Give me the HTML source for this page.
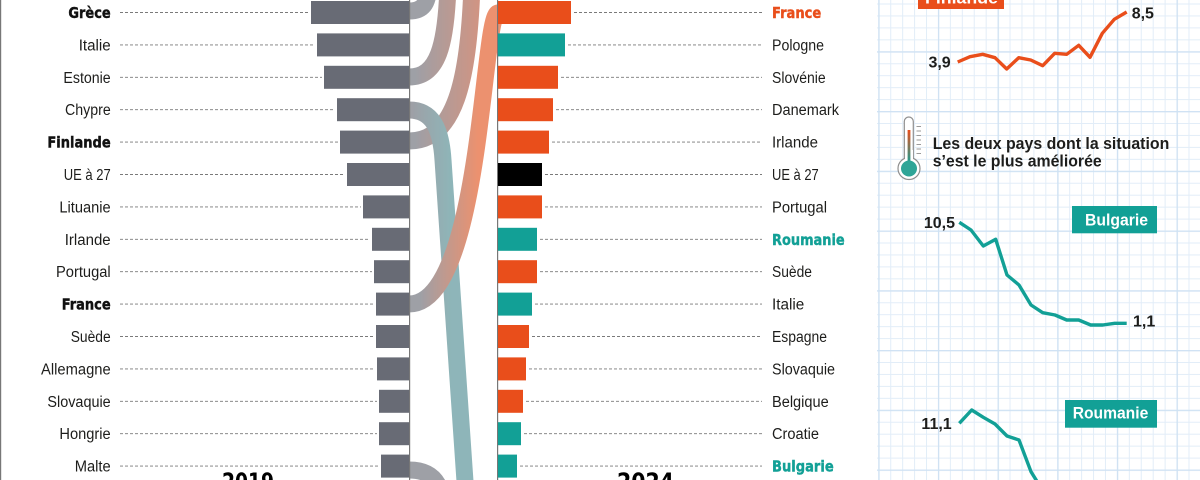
<!DOCTYPE html>
<html><head><meta charset="utf-8"><style>
html,body{margin:0;padding:0;background:#fff;}
svg{display:block;}
.l{font-family:"Liberation Sans",sans-serif;font-size:15.5px;fill:#1d1d1b;}
.b{font-family:"DejaVu Sans","Liberation Sans",sans-serif;font-weight:bold;font-size:15px;fill:#111;stroke:#111;stroke-width:0.4;}
.n{font-family:"Liberation Sans",sans-serif;font-weight:bold;font-size:16px;fill:#1d1d1b;}
.w{font-family:"Liberation Sans",sans-serif;font-weight:bold;font-size:17px;fill:#fff;}
.d{stroke:#7a7a7a;stroke-width:0.9;stroke-dasharray:3 2;fill:none;}
</style></head><body>
<svg width="1200" height="480" viewBox="0 0 1200 480" xmlns="http://www.w3.org/2000/svg">
<defs>
<pattern id="gmin" patternUnits="userSpaceOnUse" x="878.3" y="3.5" width="11.93" height="11.95">
<rect x="0" y="0" width="1" height="11.95" fill="#E2EDF8"/><rect x="0" y="0" width="11.93" height="1" fill="#E2EDF8"/>
</pattern>
<pattern id="gmaj" patternUnits="userSpaceOnUse" x="878.3" y="51.3" width="59.65" height="59.75">
<rect x="0" y="0" width="1.3" height="59.75" fill="#CFE2F3"/><rect x="0" y="0" width="59.65" height="1.3" fill="#CFE2F3"/>
</pattern>
<linearGradient id="gO" gradientUnits="userSpaceOnUse" x1="420" y1="0" x2="478" y2="0"><stop offset="0" stop-color="#686B75"/><stop offset="1" stop-color="#E2541F"/></linearGradient>
<linearGradient id="gO2" gradientUnits="userSpaceOnUse" x1="415" y1="0" x2="520" y2="0"><stop offset="0" stop-color="#686B75"/><stop offset="1" stop-color="#E94E1B"/></linearGradient>
<linearGradient id="gT" gradientUnits="userSpaceOnUse" x1="412" y1="0" x2="452" y2="0"><stop offset="0" stop-color="#686B75"/><stop offset="1" stop-color="#4F8D92"/></linearGradient>
<linearGradient id="th" x1="0" y1="0" x2="0" y2="1"><stop offset="0" stop-color="#E94E1B"/><stop offset="1" stop-color="#12A096"/></linearGradient>
</defs>

<rect x="0" y="0" width="1.2" height="480" fill="#777"/>

<rect x="877" y="0" width="323" height="480" fill="url(#gmin)"/>
<rect x="877" y="0" width="323" height="480" fill="url(#gmaj)"/>

<g fill="none" stroke-width="17" opacity="0.64">
<path d="M409,11 C423,11 428,4 429,-14" stroke="#686B75"/>
<path d="M409,77 C438,77 446,45 448,-14" stroke="url(#gO2)"/>
<path d="M409,141 C455,141 469,80 472,-16" stroke="url(#gO2)"/>
<path d="M409,110 C432,110 441,128 443,160 L466,496" stroke="url(#gT)"/>
<path d="M409,304 C482,304 482,13 498,13" stroke="url(#gO)"/>
<path d="M409,470 C428,470 438,478 442,496" stroke="#686B75"/>
</g>

<rect x="409" y="0" width="1.2" height="480" fill="#777"/>
<rect x="497" y="0" width="1.2" height="480" fill="#777"/>

<path class="d" d="M120 12.5H309 M120 44.9H315 M120 77.3H322 M120 109.7H335 M120 142.1H338 M120 174.5H345 M120 206.9H361 M120 239.3H370 M120 271.7H372 M120 304.1H374 M120 336.5H374 M120 368.9H375 M120 401.3H377 M120 433.7H377 M120 466.1H379"/>
<path class="d" d="M574 12.5H762 M568 44.9H762 M561 77.3H762 M556 109.7H762 M552 142.1H762 M545 174.5H762 M545 206.9H762 M540 239.3H762 M540 271.7H762 M535 304.1H762 M532 336.5H762 M529 368.9H762 M526 401.3H762 M524 433.7H762 M520 466.1H762"/>

<g fill="#686B75">
<rect x="311" y="1" width="98" height="23"/>
<rect x="317" y="33.4" width="92" height="23"/>
<rect x="324" y="65.8" width="85" height="23"/>
<rect x="337" y="98.2" width="72" height="23"/>
<rect x="340" y="130.6" width="69" height="23"/>
<rect x="347" y="163" width="62" height="23"/>
<rect x="363" y="195.4" width="46" height="23"/>
<rect x="372" y="227.8" width="37" height="23"/>
<rect x="374" y="260.2" width="35" height="23"/>
<rect x="376" y="292.6" width="33" height="23"/>
<rect x="376" y="325" width="33" height="23"/>
<rect x="377" y="357.4" width="32" height="23"/>
<rect x="379" y="389.8" width="30" height="23"/>
<rect x="379" y="422.2" width="30" height="23"/>
<rect x="381" y="454.6" width="28" height="23"/>
</g>

<rect x="498" y="1" width="73" height="23" fill="#E94E1B"/>
<rect x="498" y="33.4" width="67" height="23" fill="#12A096"/>
<rect x="498" y="65.8" width="60" height="23" fill="#E94E1B"/>
<rect x="498" y="98.2" width="55" height="23" fill="#E94E1B"/>
<rect x="498" y="130.6" width="51" height="23" fill="#E94E1B"/>
<rect x="498" y="163" width="44" height="23" fill="#000"/>
<rect x="498" y="195.4" width="44" height="23" fill="#E94E1B"/>
<rect x="498" y="227.8" width="39" height="23" fill="#12A096"/>
<rect x="498" y="260.2" width="39" height="23" fill="#E94E1B"/>
<rect x="498" y="292.6" width="34" height="23" fill="#12A096"/>
<rect x="498" y="325" width="31" height="23" fill="#E94E1B"/>
<rect x="498" y="357.4" width="28" height="23" fill="#E94E1B"/>
<rect x="498" y="389.8" width="25" height="23" fill="#E94E1B"/>
<rect x="498" y="422.2" width="23" height="23" fill="#12A096"/>
<rect x="498" y="454.6" width="19" height="23" fill="#12A096"/>

<text class="b" x="110.7" y="18" text-anchor="end" textLength="42.3" lengthAdjust="spacingAndGlyphs">Grèce</text>
<text class="l" x="110.7" y="50.4" text-anchor="end" textLength="32" lengthAdjust="spacingAndGlyphs">Italie</text>
<text class="l" x="110.7" y="82.8" text-anchor="end" textLength="47.3" lengthAdjust="spacingAndGlyphs">Estonie</text>
<text class="l" x="110.7" y="115.2" text-anchor="end" textLength="45.7" lengthAdjust="spacingAndGlyphs">Chypre</text>
<text class="b" x="110.7" y="147.6" text-anchor="end" textLength="63.3" lengthAdjust="spacingAndGlyphs">Finlande</text>
<text class="l" x="110.7" y="180" text-anchor="end" textLength="47" lengthAdjust="spacingAndGlyphs">UE à 27</text>
<text class="l" x="110.7" y="212.4" text-anchor="end" textLength="51.3" lengthAdjust="spacingAndGlyphs">Lituanie</text>
<text class="l" x="110.7" y="244.8" text-anchor="end" textLength="46" lengthAdjust="spacingAndGlyphs">Irlande</text>
<text class="l" x="110.7" y="277.2" text-anchor="end" textLength="54.7" lengthAdjust="spacingAndGlyphs">Portugal</text>
<text class="b" x="110.7" y="309.6" text-anchor="end" textLength="49" lengthAdjust="spacingAndGlyphs">France</text>
<text class="l" x="110.7" y="342" text-anchor="end" textLength="40" lengthAdjust="spacingAndGlyphs">Suède</text>
<text class="l" x="110.7" y="374.4" text-anchor="end" textLength="69.7" lengthAdjust="spacingAndGlyphs">Allemagne</text>
<text class="l" x="110.7" y="406.8" text-anchor="end" textLength="63.3" lengthAdjust="spacingAndGlyphs">Slovaquie</text>
<text class="l" x="110.7" y="439.2" text-anchor="end" textLength="51.3" lengthAdjust="spacingAndGlyphs">Hongrie</text>
<text class="l" x="110.7" y="471.6" text-anchor="end" textLength="36" lengthAdjust="spacingAndGlyphs">Malte</text>

<text class="b" x="772" y="18" textLength="49.3" lengthAdjust="spacingAndGlyphs" style="fill:#E94E1B;stroke:#E94E1B">France</text>
<text class="l" x="772" y="50.4" textLength="52" lengthAdjust="spacingAndGlyphs">Pologne</text>
<text class="l" x="772" y="82.8" textLength="53.7" lengthAdjust="spacingAndGlyphs">Slovénie</text>
<text class="l" x="772" y="115.2" textLength="67" lengthAdjust="spacingAndGlyphs">Danemark</text>
<text class="l" x="772" y="147.6" textLength="46" lengthAdjust="spacingAndGlyphs">Irlande</text>
<text class="l" x="772" y="180" textLength="46.7" lengthAdjust="spacingAndGlyphs">UE à 27</text>
<text class="l" x="772" y="212.4" textLength="55" lengthAdjust="spacingAndGlyphs">Portugal</text>
<text class="b" x="772" y="244.8" textLength="72.7" lengthAdjust="spacingAndGlyphs" style="fill:#12A096;stroke:#12A096">Roumanie</text>
<text class="l" x="772" y="277.2" textLength="40" lengthAdjust="spacingAndGlyphs">Suède</text>
<text class="l" x="772" y="309.6" textLength="32.3" lengthAdjust="spacingAndGlyphs">Italie</text>
<text class="l" x="772" y="342" textLength="55" lengthAdjust="spacingAndGlyphs">Espagne</text>
<text class="l" x="772" y="374.4" textLength="63" lengthAdjust="spacingAndGlyphs">Slovaquie</text>
<text class="l" x="772" y="406.8" textLength="56.7" lengthAdjust="spacingAndGlyphs">Belgique</text>
<text class="l" x="772" y="439.2" textLength="47" lengthAdjust="spacingAndGlyphs">Croatie</text>
<text class="b" x="772" y="471.6" textLength="61.7" lengthAdjust="spacingAndGlyphs" style="fill:#12A096;stroke:#12A096">Bulgarie</text>

<text x="222" y="490" textLength="52" lengthAdjust="spacingAndGlyphs" style="font-family:'DejaVu Sans','Liberation Sans',sans-serif;font-weight:bold;font-size:24px;fill:#000">2019</text>
<text x="617" y="490" textLength="57" lengthAdjust="spacingAndGlyphs" style="font-family:'DejaVu Sans','Liberation Sans',sans-serif;font-weight:bold;font-size:24px;fill:#000">2024</text>

<rect x="918" y="-20" width="86" height="29" fill="#E94E1B"/>
<text class="w" x="925" y="3.5" textLength="73" lengthAdjust="spacingAndGlyphs">Finlande</text>
<polyline fill="none" stroke="#E94E1B" stroke-width="3.4" stroke-linejoin="round" points="957.7,62 970,56.7 982.7,54.3 995,57.7 1006.7,69 1018.7,57.7 1030.7,60 1042.7,65.7 1054.7,53.3 1066.7,54.3 1078.7,45.3 1090,57.3 1102.3,33.3 1114.3,19.3 1126.7,12"/>
<text class="n" x="950.7" y="67.6" text-anchor="end">3,9</text>
<text class="n" x="1131.7" y="18.3">8,5</text>

<g>
<rect x="904.3" y="117" width="9" height="46" rx="4.5" fill="#fff" stroke="#8f8f8f" stroke-width="1.2"/>
<circle cx="909" cy="168.5" r="11" fill="#fff" stroke="#8f8f8f" stroke-width="1.2"/>
<rect x="905" y="150" width="8" height="12" fill="#fff"/>
<rect x="907.6" y="130" width="2.8" height="34" fill="url(#th)"/>
<circle cx="909" cy="168.5" r="8" fill="#2FA597"/>
<path d="M916.5 126.5h4.5M916.5 131h4.5M916.5 135.5h4.5M916.5 140h4.5M916.5 144.5h4.5M916.5 149h4.5M916.5 153.5h4.5" stroke="#9a9a9a" stroke-width="0.9"/>
</g>
<text x="932.7" y="149" textLength="236.6" lengthAdjust="spacingAndGlyphs" style="font-family:'Liberation Sans',sans-serif;font-weight:bold;font-size:16.5px;fill:#1d1d1b">Les deux pays dont la situation</text>
<text x="932.7" y="166.7" textLength="169" lengthAdjust="spacingAndGlyphs" style="font-family:'Liberation Sans',sans-serif;font-weight:bold;font-size:16.5px;fill:#1d1d1b">s’est le plus améliorée</text>

<rect x="1072" y="206" width="85" height="27.3" fill="#12A096"/>
<text class="w" x="1085" y="225.5" textLength="63" lengthAdjust="spacingAndGlyphs">Bulgarie</text>
<polyline fill="none" stroke="#12A096" stroke-width="3.4" stroke-linejoin="round" points="959.3,222.3 971,230 983.3,246 995.7,239.3 1007,275 1019,285 1031,305 1042.7,312.7 1055,315 1066.7,320 1078.7,320 1090.7,325 1102.7,325 1114.7,323.3 1126.7,323.3"/>
<text class="n" x="955" y="227.8" text-anchor="end">10,5</text>
<text class="n" x="1133" y="326.5">1,1</text>

<rect x="1065" y="400" width="92" height="27.7" fill="#12A096"/>
<text class="w" x="1072.7" y="418.5" textLength="75.6" lengthAdjust="spacingAndGlyphs">Roumanie</text>
<polyline fill="none" stroke="#12A096" stroke-width="3.4" stroke-linejoin="round" points="959.3,423.3 971.7,410 983.3,417.3 995,424 1007,436 1019,440 1031,471.7 1038,483 1044,496"/>
<text class="n" x="951.7" y="428.8" text-anchor="end">11,1</text>
</svg>
</body></html>
